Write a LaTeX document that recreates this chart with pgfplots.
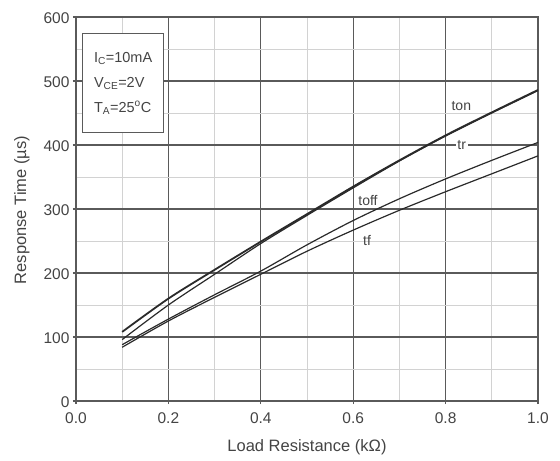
\documentclass[border=0pt]{standalone}
\usepackage{pgfplots}
\pgfplotsset{compat=1.18}
\usepackage{fontspec}
\setmainfont{Liberation Sans}

\definecolor{majgrid}{HTML}{5A5A5A}
\definecolor{mingrid}{HTML}{D2D2D2}
\definecolor{curve}{HTML}{2A2A2A}
\definecolor{txt}{HTML}{444444}

\begin{document}
\begin{tikzpicture}
\begin{axis}[
    scale only axis,
    width=462bp, height=384bp,
    xmin=0, xmax=1, ymin=0, ymax=600,
    xtick={0,0.2,0.4,0.6,0.8,1.0},
    ytick={0,100,200,300,400,500,600},
    minor xtick={0.1,0.3,0.5,0.7,0.9},
    minor ytick={50,150,250,350,450,550},
    /pgf/number format/assume math mode=true,
    grid=both,
    major grid style={majgrid, line width=1.2bp},
    minor grid style={mingrid, line width=0.9bp},
    axis line style={majgrid, line width=1.2bp},
    tick align=outside,
    major tick length=3bp,
    minor tick length=0pt,
    tick style={majgrid, line width=1.2bp},
    xtick pos=bottom, ytick pos=left,
    ticklabel style={font=\fontsize{15.5bp}{18bp}\selectfont, text=txt},
    xticklabel style={yshift=-5bp, /pgf/number format/fixed,
        /pgf/number format/fixed zerofill, /pgf/number format/precision=1},
    yticklabel style={yshift=-1bp},
    xlabel={Load Resistance (kΩ)},
    ylabel={Response Time (µs)},
    label style={font=\fontsize{16.5bp}{19bp}\selectfont, text=txt},
    xlabel style={at={(axis description cs:0.5,-0.12)}, anchor=center},
    ylabel style={at={(axis description cs:-0.117,0.497)}, anchor=center},
]
% ton and tr run together above 0.35 kOhm
\addplot[curve, line width=1.8bp, smooth] coordinates {
    (0.1,108) (0.2,160) (0.3,205) (0.4,249) (0.5,292) (0.6,335)
    (0.7,376) (0.8,415) (0.9,451) (1.0,486)
};
\addplot[curve, line width=1.2bp, smooth] coordinates {
    (0.1,96) (0.2,150) (0.3,198) (0.4,246) (0.5,290) (0.6,333)
    (0.7,375) (0.8,414) (0.9,450) (1.0,485)
};
\addplot[curve, line width=1.2bp, smooth] coordinates {
    (0.1,88) (0.2,128) (0.3,166) (0.4,203) (0.5,244) (0.6,282)
    (0.7,316) (0.8,347) (0.9,376) (1.0,404)
};
\addplot[curve, line width=1.2bp, smooth] coordinates {
    (0.1,84) (0.2,125) (0.3,162) (0.4,198) (0.5,234) (0.6,267)
    (0.7,298) (0.8,327) (0.9,355) (1.0,383)
};

\node[text=txt, font=\fontsize{14bp}{16bp}\selectfont] at (axis cs:0.834,461) {ton};
\node[text=txt, fill=white, inner sep=1.5bp, font=\fontsize{14bp}{16bp}\selectfont] at (axis cs:0.835,400) {tr};
\node[text=txt, font=\fontsize{14bp}{16bp}\selectfont] at (axis cs:0.632,314) {toff};
\node[text=txt, font=\fontsize{14bp}{16bp}\selectfont] at (axis cs:0.63,251) {tf};

\node[draw=majgrid, line width=1.2bp, fill=white, anchor=north west,
      minimum width=81bp, minimum height=99bp, inner sep=4bp,
      text=txt, align=left, font=\fontsize{14.5bp}{25bp}\selectfont]
    at (axis cs:0.013,575)
    {I\textsubscript{C}=10mA\\V\textsubscript{CE}=2V\\T\textsubscript{A}=25\textsuperscript{o}C};
\end{axis}
\path (-76bp,-60bp) rectangle (484bp,401bp);
\end{tikzpicture}
\end{document}
